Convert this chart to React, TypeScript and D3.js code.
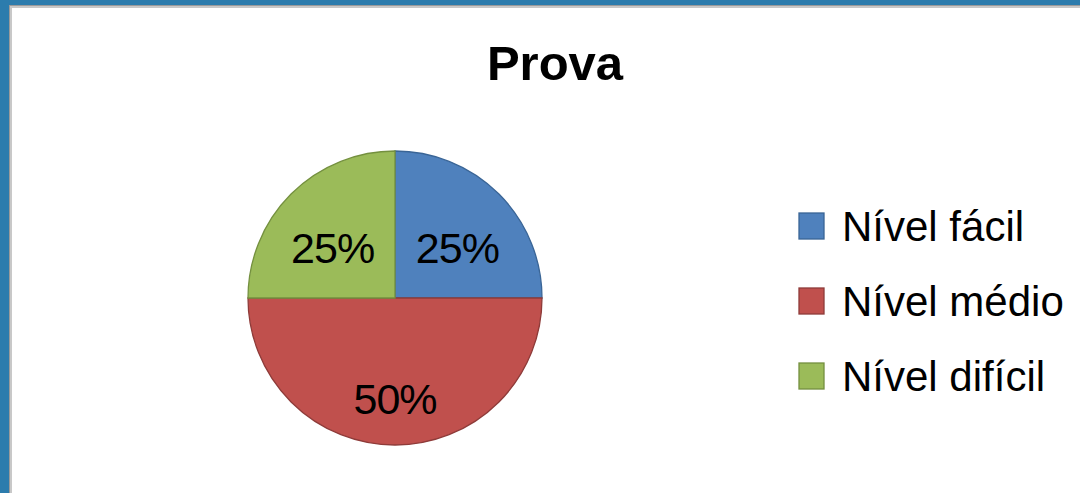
import React, { useEffect, useRef } from 'react';
import * as d3 from 'd3';

const title = 'Prova';
const categories = ['Nível fácil', 'Nível médio', 'Nível difícil'];
const values = [25, 50, 25];
const colors = ['#4F81BD', '#C0504D', '#9BBB59'];
const strokes = ['#3A6596', '#8E3B39', '#74903F'];

const W = 1080;
const H = 493;
const FONT = '"Liberation Sans", Arial, sans-serif';

export default function App() {
    const svgRef = useRef<SVGSVGElement>(null);

    useEffect(() => {
        if (!svgRef.current) return;
        const svg = d3.select(svgRef.current);
        svg.selectAll('*').remove();

        // outer frame (blue slide background + grey edge)
        svg.append('rect').attr('width', W).attr('height', H).attr('fill', '#2C7CAD');
        svg.append('rect').attr('x', 9).attr('y', 5).attr('width', W).attr('height', H)
            .attr('fill', '#9a9a9a');
        svg.append('rect').attr('x', 10).attr('y', 6).attr('width', W).attr('height', H)
            .attr('fill', '#c8c8c8');
        svg.append('rect').attr('x', 12).attr('y', 8).attr('width', W).attr('height', H)
            .attr('fill', '#ffffff');

        svg.append('text')
            .attr('x', 555).attr('y', 80)
            .attr('text-anchor', 'middle')
            .attr('font-family', FONT)
            .attr('font-weight', 'bold')
            .attr('font-size', 49)
            .attr('fill', '#000')
            .text(title);

        const cx = 395, cy = 298, r = 147;
        const pie = d3.pie<number>().sort(null).value(d => d)(values);
        const arc = d3.arc<d3.PieArcDatum<number>>().innerRadius(0).outerRadius(r);
        const labelArc = d3.arc<d3.PieArcDatum<number>>().innerRadius(r * 0.6).outerRadius(r * 0.6);
        const total = d3.sum(values);

        const g = svg.append('g').attr('transform', `translate(${cx},${cy})`);
        g.selectAll('path.slice')
            .data(pie).enter().append('path')
            .attr('class', 'slice')
            .attr('d', arc)
            .attr('fill', (_, i) => colors[i])
            .attr('stroke', (_, i) => strokes[i])
            .attr('stroke-width', 1.3);

        g.selectAll('text.lbl')
            .data(pie).enter().append('text')
            .attr('class', 'lbl')
            .attr('x', d => labelArc.centroid(d)[0])
            .attr('y', d => labelArc.centroid(d)[1] + 12)
            .attr('dy', '0.36em')
            .attr('text-anchor', 'middle')
            .attr('font-family', FONT)
            .attr('font-size', 43)
            .attr('letter-spacing', -1)
            .attr('fill', '#000')
            .text(d => `${Math.round((d.data / total) * 100)}%`);

        // legend
        const ly = d3.scalePoint<string>().domain(categories).range([226, 376]);
        const leg = svg.append('g');
        categories.forEach((c, i) => {
            const y = ly(c) as number;
            leg.append('rect')
                .attr('x', 799).attr('y', y - 13)
                .attr('width', 25).attr('height', 26)
                .attr('fill', colors[i])
                .attr('stroke', strokes[i])
                .attr('stroke-width', 1.3);
            leg.append('text')
                .attr('x', 842).attr('y', y)
                .attr('dy', '0.36em')
                .attr('font-family', FONT)
                .attr('font-size', 42)
                .attr('fill', '#000')
                .text(c);
        });
    }, []);

    return (
        <svg
            ref={svgRef}
            width={W}
            height={H}
            style={{ position: 'absolute', left: 0, top: 0, display: 'block' }}
        />
    );
}
